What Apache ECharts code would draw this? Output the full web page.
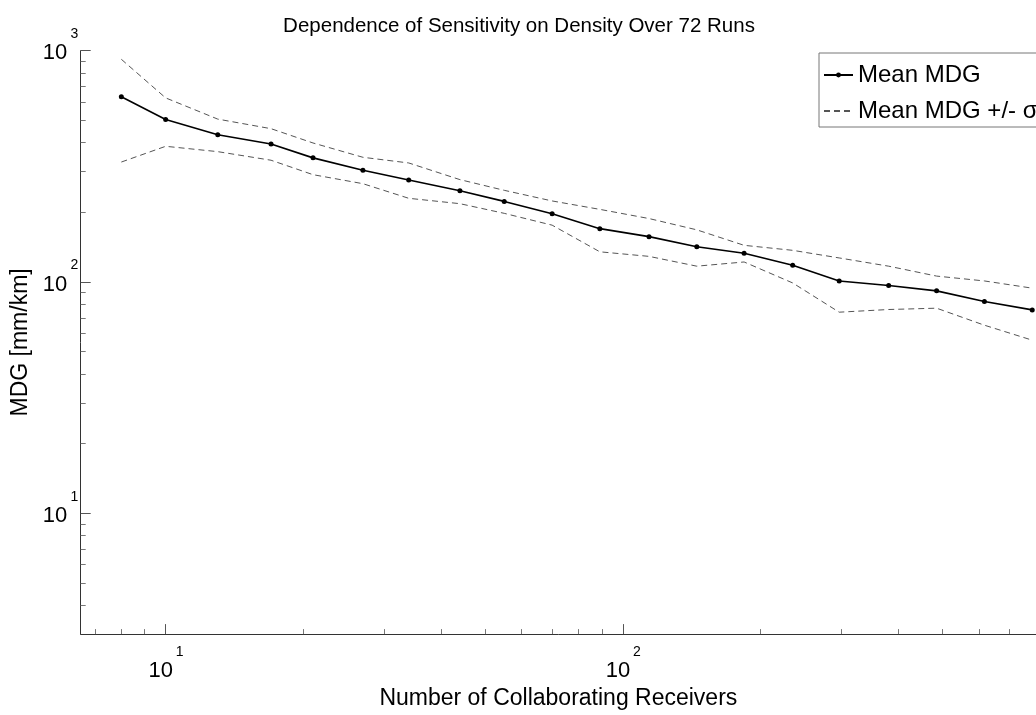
<!DOCTYPE html>
<html><head><meta charset="utf-8">
<script src="https://cdn.jsdelivr.net/npm/echarts@6/dist/echarts.min.js"></script>
<style>html,body{margin:0;padding:0;background:#fff}#c{width:1036px;height:715px}</style>
</head><body><div id="c"></div>
<script>
const receivers = [8, 10, 13, 17, 21, 27, 34, 44, 55, 70, 89, 114, 145, 184, 235, 297, 381, 485, 617, 785];
const meanMDG  = [632, 504, 433, 395, 344, 304, 276, 248, 223, 197, 170, 157, 142, 133, 118, 101, 96.5, 91.5, 82.3, 75.7];
const upperMDG = [918, 625, 506, 460, 399, 346, 327, 277, 249, 224, 206, 188, 168, 144, 137, 127, 117, 106, 101, 94];
const lowerMDG = [330, 386, 366, 336, 291, 266, 230, 218, 198, 176, 135, 129, 117, 122, 99, 74, 76, 77, 65, 56];
const xMinorTicks = [7, 8, 9, 20, 30, 40, 50, 60, 70, 80, 90, 200, 300, 400, 500, 600, 700];
const xMajorTicks = [10, 100];
const yMinorTicks = [4, 5, 6, 7, 8, 9, 20, 30, 40, 50, 60, 70, 80, 90, 200, 300, 400, 500, 600, 700, 800, 900];
const yMajorTicks = [10, 100, 1000];
const titleText = 'Dependence of Sensitivity on Density Over 72 Runs';
const xName = 'Number of Collaborating Receivers';
const yName = 'MDG [mm/km]';
const seriesNames = ['Mean MDG', 'Mean MDG +/- σ'];

const FONT = "'Liberation Sans', Arial, Helvetica, sans-serif";
const X_MIN = 6.52, X_MAX = 800, Y_MIN = 3, Y_MAX = 1000;
const pair = (ys) => receivers.map((x, i) => [x, ys[i]]);
const baseFmt = () => '10';
const expFmt = (v) => String(Math.round(Math.log10(v)));

const chart = echarts.init(document.getElementById('c'), null, {renderer: 'canvas'});
const baseX = {type: 'log', min: X_MIN, max: X_MAX, gridIndex: 0, position: 'bottom', splitLine: {show: false}};
const baseY = {type: 'log', min: Y_MIN, max: Y_MAX, gridIndex: 0, position: 'left', splitLine: {show: false}};
const numStyle = {fontFamily: FONT, fontSize: 22, color: '#000'};
const expStyle = {fontFamily: FONT, fontSize: 14, color: '#000'};

chart.setOption({
  backgroundColor: '#ffffff',
  animation: false,
  textStyle: {fontFamily: FONT},
  title: {
    text: titleText, left: 514, top: 11, textAlign: 'center',
    textStyle: {fontFamily: FONT, fontSize: 20.5, fontWeight: 'normal', color: '#000'}
  },
  grid: {left: 80.7, top: 50.7, width: 964, height: 585, containLabel: false},
  legend: {
    data: seriesNames, orient: 'vertical', left: 819, top: 53,
    itemWidth: 29, itemHeight: 6, itemGap: 12,
    padding: [10, 60, 4, 4],
    borderColor: '#777', borderWidth: 1, backgroundColor: '#fff',
    textStyle: {fontFamily: FONT, fontSize: 24, color: '#000'}
  },
  xAxis: [
    Object.assign({}, baseX, {
      axisLine: {show: true, lineStyle: {color: '#333', width: 1}},
      axisTick: {show: true, inside: true, length: 5, customValues: xMinorTicks, lineStyle: {color: '#777'}},
      axisLabel: Object.assign({show: true, customValues: xMajorTicks, margin: 26, formatter: baseFmt, padding: [0, 10, 0, 0]}, numStyle),
      name: xName, nameLocation: 'middle', nameGap: 49,
      nameTextStyle: {fontFamily: FONT, fontSize: 23, color: '#000'}
    }),
    Object.assign({}, baseX, {
      axisLine: {show: false},
      axisTick: {show: true, inside: true, length: 10, customValues: xMajorTicks, lineStyle: {color: '#555'}},
      axisLabel: Object.assign({show: true, customValues: xMajorTicks, margin: 11, formatter: expFmt, padding: [0, 0, 0, 28]}, expStyle)
    })
  ],
  yAxis: [
    Object.assign({}, baseY, {
      axisLine: {show: true, lineStyle: {color: '#333', width: 1}},
      axisTick: {show: true, inside: true, length: 5, customValues: yMinorTicks, lineStyle: {color: '#777'}},
      axisLabel: {
        show: true, customValues: yMajorTicks, margin: 13.5,
        formatter: (v) => '{sp| }\n{n|' + baseFmt(v) + '}',
        rich: {
          sp: {fontFamily: FONT, fontSize: 4, lineHeight: 5},
          n: Object.assign({lineHeight: 22}, numStyle)
        }
      },
      name: yName, nameLocation: 'middle', nameGap: 47, nameRotate: 90,
      nameTextStyle: {fontFamily: FONT, fontSize: 23, color: '#000'}
    }),
    Object.assign({}, baseY, {
      axisLine: {show: false},
      axisTick: {show: true, inside: true, length: 10, customValues: yMajorTicks, lineStyle: {color: '#555'}},
      axisLabel: {
        show: true, customValues: yMajorTicks, margin: 2.5,
        formatter: (v) => '{e|' + expFmt(v) + '}\n{sp| }',
        rich: {
          e: Object.assign({lineHeight: 15}, expStyle),
          sp: {fontFamily: FONT, fontSize: 4, lineHeight: 33}
        }
      }
    })
  ],
  series: [
    {
      name: seriesNames[0], type: 'line', xAxisIndex: 0, yAxisIndex: 0,
      data: pair(meanMDG), symbol: 'circle', symbolSize: 5, showSymbol: true,
      lineStyle: {color: '#000', width: 1.6}, itemStyle: {color: '#000'}, z: 5
    },
    {
      name: seriesNames[1], type: 'line', xAxisIndex: 0, yAxisIndex: 0,
      data: pair(upperMDG), symbol: 'circle', showSymbol: false,
      lineStyle: {color: '#555', width: 1, type: [6, 4]}, itemStyle: {color: 'rgba(0,0,0,0)'}
    },
    {
      name: seriesNames[1], type: 'line', xAxisIndex: 0, yAxisIndex: 0,
      data: pair(lowerMDG), symbol: 'circle', showSymbol: false,
      lineStyle: {color: '#555', width: 1, type: [6, 4]}, itemStyle: {color: 'rgba(0,0,0,0)'}
    }
  ]
});
</script>
</body></html>
